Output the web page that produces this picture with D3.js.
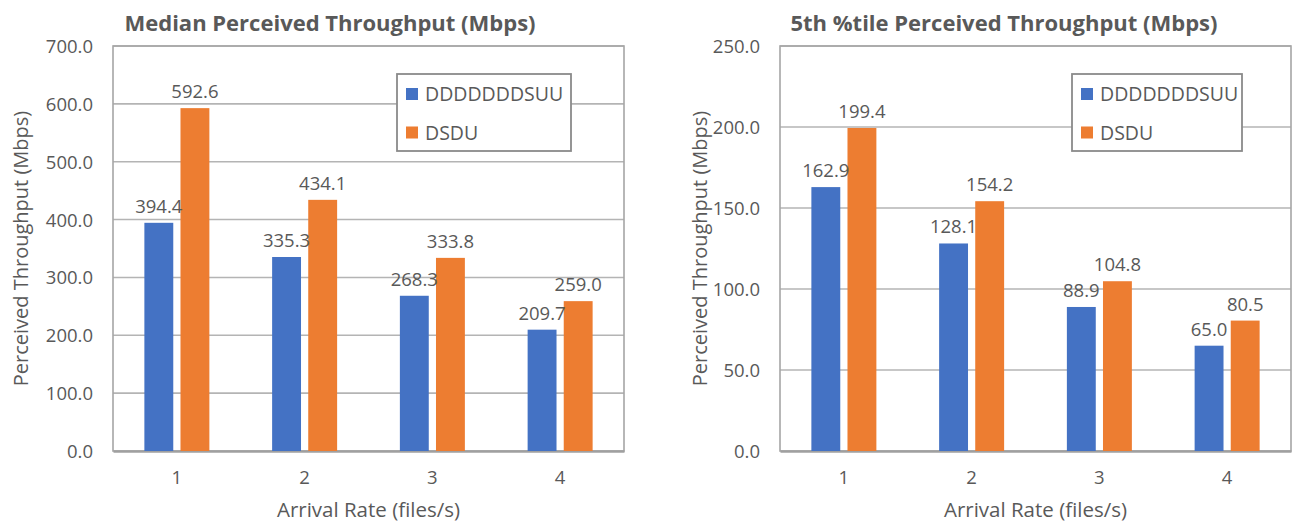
<!DOCTYPE html>
<html>
<head>
<meta charset="utf-8">
<script src="https://cdn.jsdelivr.net/npm/d3@7"></script>
<style>
  html, body { margin: 0; padding: 0; background: #fff; }
  svg text { font-family: "Open Sans", "Noto Sans", sans-serif; fill: #595959; }
</style>
</head>
<body>
<svg id="chart" width="1295" height="522"></svg>
<script>
// Categories and series
const categories = ["1", "2", "3", "4"];
const seriesNames = ["DDDDDDDSUU", "DSDU"];
const seriesColors = ["#4472C4", "#ED7D31"];

// Median perceived throughput (Mbps)
const medianDDDDDDDSUU = [394.4, 335.3, 268.3, 209.7];
const medianDSDU = [592.6, 434.1, 333.8, 259.0];
const medianTicks = [0, 100, 200, 300, 400, 500, 600, 700];

// 5th percentile perceived throughput (Mbps)
const p5DDDDDDDSUU = [162.9, 128.1, 88.9, 65.0];
const p5DSDU = [199.4, 154.2, 104.8, 80.5];
const p5Ticks = [0, 50, 100, 150, 200, 250];

const svg = d3.select("#chart");

function drawPanel(opts) {
  const { left, right, top, bottom, title, titleX, yTitleX, ticks, values, legendBox } = opts;
  const g = svg.append("g");
  const innerW = right - left;

  const x0 = d3.scaleBand().domain(categories).range([left, right]).padding(0);
  const x1 = d3.scaleBand().domain(seriesNames).range([0, 65]).paddingInner(0.2);
  const y = d3.scaleLinear().domain([0, d3.max(ticks)]).range([bottom, top]);

  // Title
  g.append("text")
    .attr("x", titleX).attr("y", 31)
    .attr("text-anchor", "middle")
    .style("font-size", "22px").style("font-weight", "bold")
    .text(title);

  // Gridlines
  g.append("g").selectAll("line").data(ticks.filter(t => t > 0)).join("line")
    .attr("x1", left).attr("x2", right)
    .attr("y1", d => y(d)).attr("y2", d => y(d))
    .attr("stroke", "#b4b4b4").attr("stroke-width", 1.6);

  // Plot frame
  g.append("rect")
    .attr("x", left).attr("y", top)
    .attr("width", innerW).attr("height", bottom - top)
    .attr("fill", "none").attr("stroke", "#a6a6a6").attr("stroke-width", 1.6);

  // Y axis labels
  const yAxis = d3.axisLeft(y).tickValues(ticks).tickFormat(d3.format(".1f")).tickSize(0).tickPadding(20);
  const ya = g.append("g").attr("transform", `translate(${left},0)`).call(yAxis);
  ya.select(".domain").remove();
  ya.selectAll("text").style("font-size", "18.5px").attr("fill", "#595959").attr("dy", "0.35em");

  // X axis labels
  const xAxis = d3.axisBottom(x0).tickSize(0).tickPadding(20);
  const xa = g.append("g").attr("transform", `translate(0,${bottom})`).call(xAxis);
  xa.select(".domain").attr("stroke", "#a0a0a0").attr("stroke-width", 2.4);
  xa.selectAll("text").style("font-size", "18.5px").attr("fill", "#595959");

  // Axis titles
  g.append("text")
    .attr("x", (left + right) / 2).attr("y", 517)
    .attr("text-anchor", "middle")
    .style("font-size", "20.5px")
    .text("Arrival Rate (files/s)");
  g.append("text")
    .attr("transform", `translate(${yTitleX},${(top + bottom) / 2}) rotate(-90)`)
    .attr("text-anchor", "middle")
    .attr("dy", "0.35em")
    .style("font-size", "20px")
    .text("Perceived Throughput (Mbps)");

  // Bars
  const offset = x0.bandwidth() / 2 - 32.5;
  values.forEach((vals, si) => {
    g.append("g").selectAll("rect").data(vals).join("rect")
      .attr("x", (d, i) => x0(categories[i]) + offset + x1(seriesNames[si]))
      .attr("y", d => y(d))
      .attr("width", x1.bandwidth())
      .attr("height", d => bottom - y(d))
      .attr("fill", seriesColors[si]);
  });

  // Value labels
  values.forEach((vals, si) => {
    g.append("g").selectAll("text").data(vals).join("text")
      .attr("x", (d, i) => x0(categories[i]) + offset + x1(seriesNames[si]) + x1.bandwidth() / 2)
      .attr("y", d => y(d) - 10)
      .attr("text-anchor", "middle")
      .style("font-size", "18.5px")
      .text(d => d.toFixed(1));
  });

  // Legend
  const lg = g.append("g");
  lg.append("rect")
    .attr("x", legendBox.x).attr("y", legendBox.y)
    .attr("width", legendBox.w).attr("height", legendBox.h)
    .attr("fill", "#fff").attr("stroke", "#8a8a8a").attr("stroke-width", 1.8);
  seriesNames.forEach((name, i) => {
    const cy = legendBox.y + 20 + i * 38.5;
    lg.append("rect")
      .attr("x", legendBox.x + 9).attr("y", cy - 6)
      .attr("width", 12).attr("height", 12)
      .attr("fill", seriesColors[i]);
    lg.append("text")
      .attr("x", legendBox.x + 28).attr("y", cy)
      .attr("dy", "0.36em")
      .style("font-size", "19.5px")
      .text(name);
  });
}

drawPanel({
  left: 113, right: 624, top: 46, bottom: 451,
  title: "Median Perceived Throughput (Mbps)", titleX: 330, yTitleX: 21,
  ticks: medianTicks,
  values: [medianDDDDDDDSUU, medianDSDU],
  legendBox: { x: 397, y: 74, w: 174, h: 77 }
});

drawPanel({
  left: 780, right: 1291, top: 46, bottom: 451,
  title: "5th %tile Perceived Throughput (Mbps)", titleX: 1004, yTitleX: 700,
  ticks: p5Ticks,
  values: [p5DDDDDDDSUU, p5DSDU],
  legendBox: { x: 1072, y: 74, w: 170, h: 77 }
});
</script>
</body>
</html>
